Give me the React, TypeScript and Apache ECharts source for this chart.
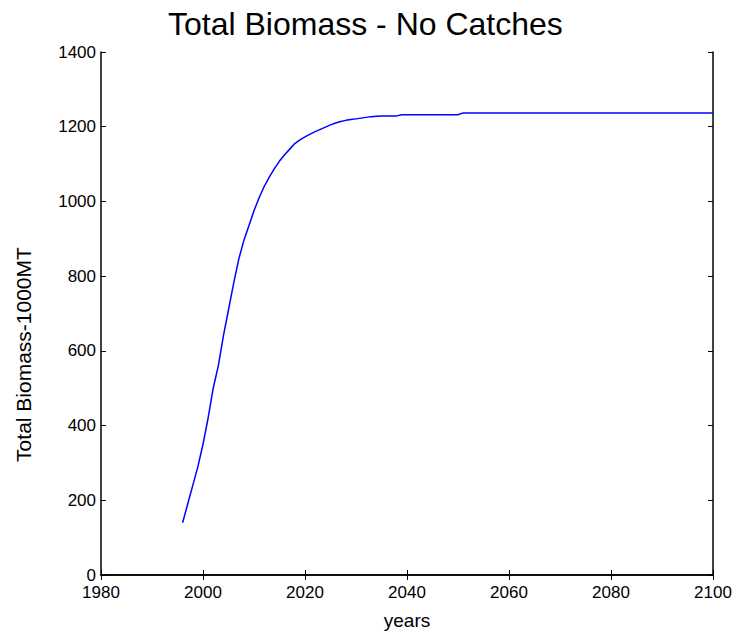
import React, { useEffect, useRef } from "react";
import * as echarts from "echarts";

const startYear = 1996;
const biomassEarly = [
  140, 190, 240, 290, 350, 420, 500, 560, 640, 710,
  780, 845, 895, 935, 975, 1010, 1040, 1065, 1088, 1108,
  1125, 1140, 1155, 1165, 1173, 1180, 1187, 1193, 1199, 1205,
  1210, 1214, 1217, 1219, 1221, 1223, 1225, 1227, 1228, 1229,
  1229, 1229, 1229,
];
// 2039..2050 plateau, 2051..2100 plateau
const plateau1Value = 1232;
const plateau1Years = [2039, 2040, 2041, 2042, 2043, 2044, 2045, 2046, 2047, 2048, 2049, 2050];
const plateau2Value = 1237;
const plateau2Start = 2051;
const plateau2End = 2100;

const xTicks = [1980, 2000, 2020, 2040, 2060, 2080, 2100];
const yTicks = [0, 200, 400, 600, 800, 1000, 1200, 1400];

function buildData(): [number, number][] {
  const d: [number, number][] = biomassEarly.map((v, i) => [startYear + i, v]);
  plateau1Years.forEach((y) => d.push([y, plateau1Value]));
  for (let y = plateau2Start; y <= plateau2End; y++) d.push([y, plateau2Value]);
  return d;
}

export default function App() {
  const ref = useRef<HTMLDivElement>(null);
  useEffect(() => {
    if (!ref.current) return;
    const chart = echarts.init(ref.current, null, { renderer: "svg" });
    const font = "Liberation Sans, Arial, sans-serif";
    const axisCommon = {
      axisLine: { show: true, lineStyle: { color: "#000", width: 1.5 } },
      axisTick: { show: true, inside: true, length: 5, lineStyle: { color: "#000", width: 1 } },
      splitLine: { show: false },
    };
    const fmt = (v: number) => String(v);
    chart.setOption({
      animation: false,
      backgroundColor: "#fff",
      title: {
        text: "Total Biomass - No Catches",
        left: 163,
        top: 3,
        textStyle: { fontFamily: font, fontSize: 32, fontWeight: "normal", color: "#000" },
      },
      grid: { left: 101, right: 26, top: 52, bottom: 60 },
      xAxis: [
        {
          type: "value",
          min: xTicks[0],
          max: xTicks[xTicks.length - 1],
          interval: 20,
          position: "bottom",
          name: "years",
          nameLocation: "middle",
          nameGap: 36,
          nameTextStyle: { fontFamily: font, fontSize: 19, color: "#000" },
          ...axisCommon,
          axisLabel: { fontFamily: font, fontSize: 17, color: "#000", margin: 9, formatter: fmt },
        },
        {
          type: "value",
          min: xTicks[0],
          max: xTicks[xTicks.length - 1],
          interval: 20,
          position: "top",
          ...axisCommon,
          axisLabel: { show: false },
        },
      ],
      yAxis: [
        {
          type: "value",
          min: yTicks[0],
          max: yTicks[yTicks.length - 1],
          interval: 200,
          position: "left",
          name: "Total Biomass-1000MT",
          nameLocation: "middle",
          nameGap: 67,
          nameTextStyle: { fontFamily: font, fontSize: 21, color: "#000", padding: [0, 82, 0, 0] },
          ...axisCommon,
          axisLabel: { fontFamily: font, fontSize: 17, color: "#000", margin: 5, formatter: fmt },
        },
        {
          type: "value",
          min: yTicks[0],
          max: yTicks[yTicks.length - 1],
          interval: 200,
          position: "right",
          ...axisCommon,
          axisLabel: { show: false },
        },
      ],
      series: [
        {
          type: "line",
          data: buildData(),
          showSymbol: false,
          symbol: "none",
          lineStyle: { color: "#0000ff", width: 1.5 },
          xAxisIndex: 0,
          yAxisIndex: 0,
        },
      ],
    });
    return () => chart.dispose();
  }, []);
  return (
    <div
      ref={ref}
      style={{ position: "fixed", left: 0, top: 0, width: 739, height: 635, background: "#fff" }}
    />
  );
}
